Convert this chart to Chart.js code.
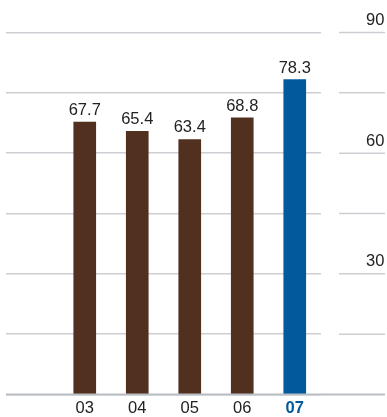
<!DOCTYPE html>
<html lang="en">
<head>
    <meta charset="UTF-8">
    <title>Index 03-07</title>
    <script src="https://cdn.jsdelivr.net/npm/chart.js"></script>
    <style>
        body { margin: 0; background: #fff; }
        #wrap { width: 387px; height: 417px; }
    </style>
</head>
<body>
    <div id="wrap">
        <canvas id="chart"></canvas>
    </div>

    <script>
        // Values per year
        const years = ['03', '04', '05', '06', '07'];
        const values = [67.7, 65.4, 63.4, 68.8, 78.3];
        const axisLabels = [30, 60, 90];

        const brown = '#52301f';
        const blue = '#005a9b';
        const gridColor = '#cbcfd3';
        const fontFamily = '"Liberation Sans", Arial, sans-serif';
        const fontSize = 16.5;
        const lastIdx = years.length; // index of '07' once the spacer slot is added

        // leading empty slot keeps the grid running out to the left edge
        const labels = [''].concat(years);
        const data = [null].concat(values);

        // value text above each bar, plus the grid stubs and baseline on the right side
        const extras = {
            id: 'extras',
            afterDatasetsDraw(chart) {
                const ctx = chart.ctx;
                const meta = chart.getDatasetMeta(0);
                ctx.save();
                ctx.font = fontSize + 'px ' + fontFamily;
                ctx.fillStyle = '#222';
                ctx.textAlign = 'center';
                ctx.textBaseline = 'alphabetic';
                meta.data.forEach((bar, i) => {
                    if (data[i] == null) return;
                    ctx.fillText(data[i].toFixed(1), bar.x, bar.y - 7);
                });
                ctx.restore();
            },
            afterDraw(chart) {
                const ctx = chart.ctx;
                const y = chart.scales.y;
                const area = chart.chartArea;
                ctx.save();
                ctx.strokeStyle = gridColor;
                ctx.lineWidth = 1.5;
                y.ticks.forEach(t => {
                    if (t.value === 0) return;
                    const py = y.getPixelForValue(t.value);
                    ctx.beginPath();
                    ctx.moveTo(area.right + 18, py);
                    ctx.lineTo(chart.width - 2, py);
                    ctx.stroke();
                });
                // baseline across the full width
                const by = y.getPixelForValue(0);
                ctx.strokeStyle = '#b9bec3';
                ctx.lineWidth = 2;
                ctx.beginPath();
                ctx.moveTo(area.left, by);
                ctx.lineTo(chart.width - 2, by);
                ctx.stroke();
                ctx.restore();
            }
        };

        new Chart(document.getElementById('chart'), {
            type: 'bar',
            data: {
                labels: labels,
                datasets: [{
                    data: data,
                    backgroundColor: data.map((v, i) => i === lastIdx ? blue : brown),
                    barThickness: 22
                }]
            },
            options: {
                responsive: true,
                maintainAspectRatio: false,
                animation: false,
                layout: { padding: { top: 32.5, left: 6, right: 2, bottom: 0 } },
                plugins: {
                    legend: { display: false },
                    tooltip: { enabled: false }
                },
                scales: {
                    x: {
                        grid: { display: false, drawTicks: false },
                        border: { display: false },
                        ticks: {
                            padding: 4,
                            autoSkip: false,
                            maxRotation: 0,
                            color: ctx => ctx.index === lastIdx ? blue : '#222',
                            font: ctx => ({
                                family: fontFamily,
                                size: fontSize,
                                weight: ctx.index === lastIdx ? 'bold' : 'normal'
                            })
                        },
                        afterFit: scale => { scale.height = 22.5; }
                    },
                    y: {
                        position: 'right',
                        min: 0,
                        max: 90,
                        grid: {
                            color: gridColor,
                            lineWidth: 1.5,
                            drawTicks: false
                        },
                        border: { display: false },
                        ticks: {
                            stepSize: 15,
                            padding: 45,
                            labelOffset: -12,
                            color: '#222',
                            font: { family: fontFamily, size: fontSize },
                            callback: v => axisLabels.includes(v) ? String(v) : ''
                        },
                        afterFit: scale => {
                            scale.width = 64;
                            scale.paddingTop = 0;
                            scale.paddingBottom = 0;
                        }
                    }
                }
            },
            plugins: [extras]
        });
    </script>
</body>
</html>
